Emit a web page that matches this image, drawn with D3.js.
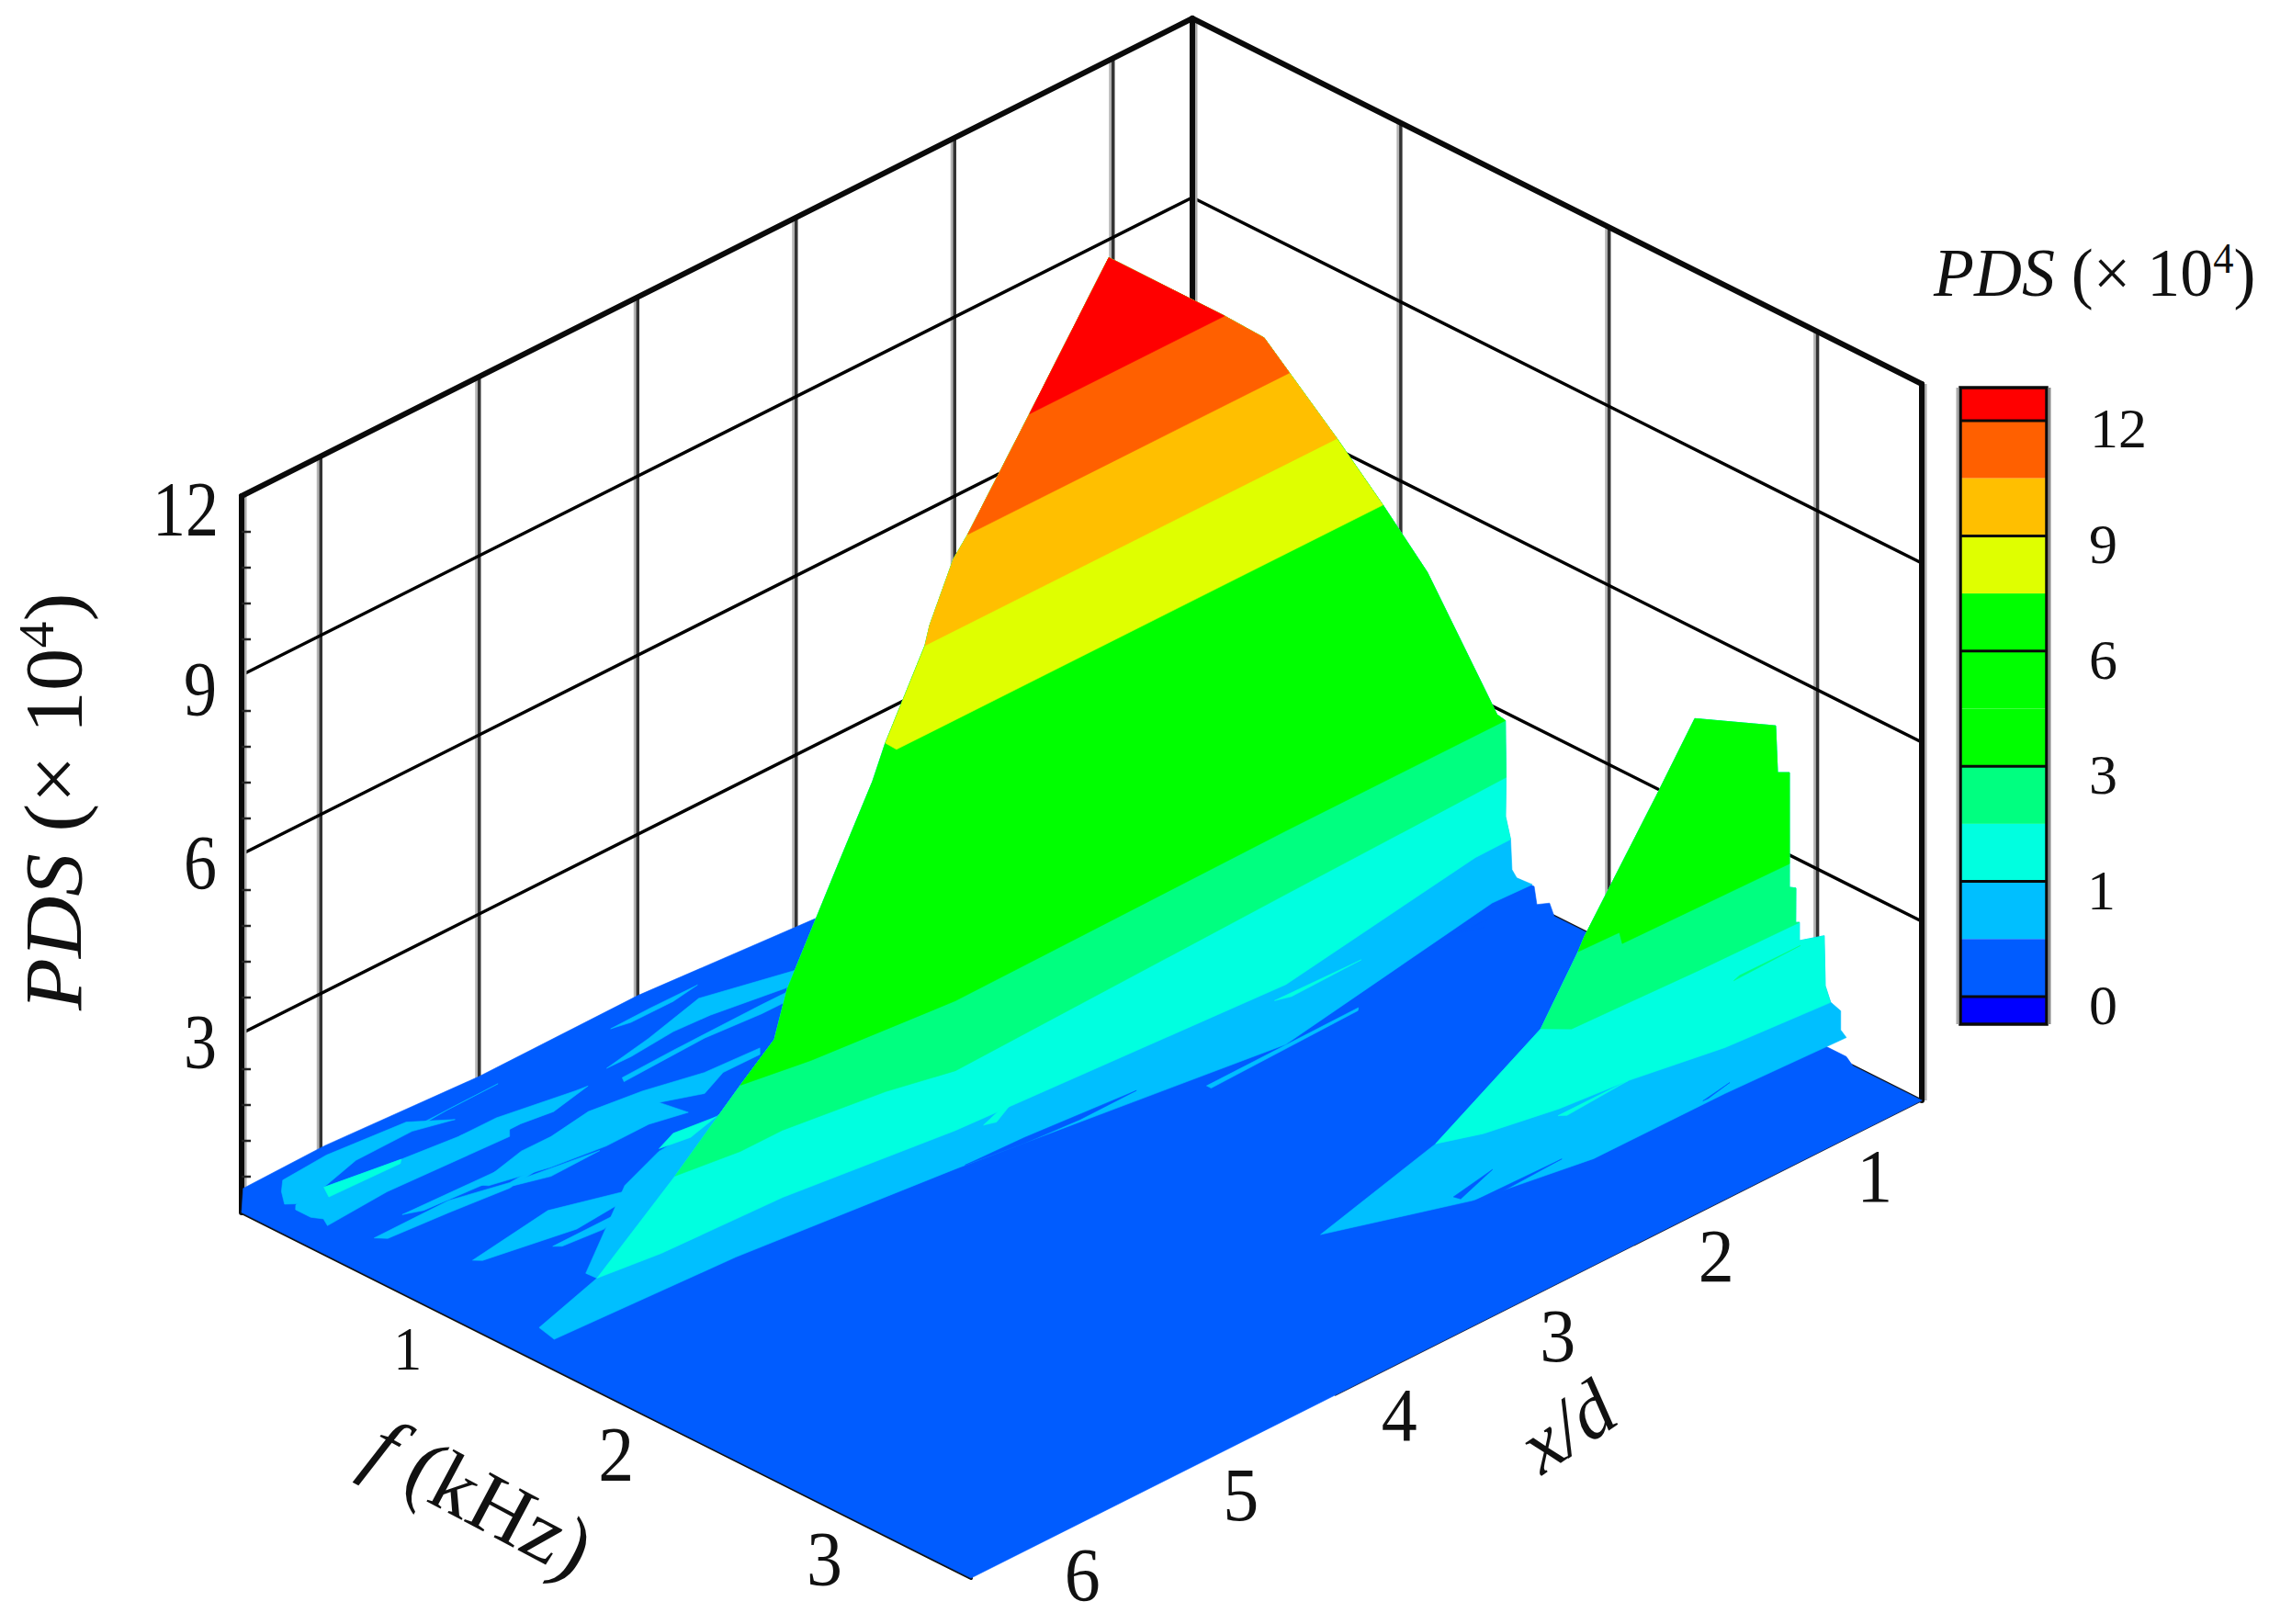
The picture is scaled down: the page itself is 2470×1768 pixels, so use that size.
<!DOCTYPE html>
<html><head><meta charset="utf-8">
<style>html,body{margin:0;padding:0;background:#fff}svg{display:block}text{font-family:"Liberation Serif","Times New Roman",serif;fill:#111}</style>
<script src="https://cdn.jsdelivr.net/npm/d3@7"></script></head>
<body><svg id="c" width="2470" height="1768"></svg>
<script>
// ---- axes ----
const xdTicks=[1,2,3,4,5,6];
const fTicks=[1,2,3];
const pdsTicks=[3,6,9,12];
const pdsMinor=[.6,1.2,1.8,2.4,3.6,4.2,4.8,5.4,6.6,7.2,7.8,8.4,9.6,10.2,10.8,11.4];
// ---- contour levels and colours (legend, top to bottom) ----
const levels=[12,10.5,9,7.5,6,4.5,3,2,1,0.5,0];
const labelledLevels=[12,9,6,3,1,0];
const bandColors=['#ff0000','#ff6000','#ffbf00','#dfff00','#00ff00','#00ff00','#00ff00','#00ff80','#00ffe0','#00bfff','#005cff','#0000ff'];
// ---- floor outline [x/d, f, PDS] ----
const floorEdge=[[6.5,0,0],[6.49,0,.39],[5.98,0,.42],[5,0,.28],[4,0,.3],[2.85,0,.09],[2.85,1.5,.3],[.5,1.5,.3],[.5,1.556,.32],[.5,1.64,.33],[.5,1.653,.05],[.5,1.714,.18],[.5,1.736,0],[.5,1.88,0],[.5,2.865,.1],[.5,3.138,.1],[.5,3.169,0],[.5,3.5,0],[6.5,3.5,0]];
// ---- first ridge: crest [x/d, f, PDS] and contours [x/d, f] ----
const ridge1Crest=[[.565,1.606,.5],[.528,1.555,.5],[.53,1.55,1],[.5,1.503,1.26],[.53,1.528,2],[.55,1.54,3],[.55,1.5,3.03],[.99,1.5,6],[1.27,1.5,7.5],[1.56,1.5,9],[1.86,1.5,10.5],[2.02,1.5,11.3],[2.27,1.5,12],[3,1.5,13.95],[3.5,1.5,12],[3.89,1.5,10.5],[3.98,1.5,10.21],[4.13,1.5,9.3],[4.16,1.5,9],[4.41,1.5,7.7],[4.49,1.5,7.17],[4.73,1.5,5.95],[5.03,1.5,4.4],[5.11,1.5,3.67],[5.254,1.446,3],[5.656,1.438,2],[6.168,1.453,1],[6.474,1.408,.5]];
const ridge1Contours=[
 {level:.5,pts:[[.557,1.675],[.8,1.667],[2.34,1.847],[4.165,1.649],[5.411,1.543],[6.5,1.5]]},
 {level:1,pts:[[.53,1.55],[.756,1.552],[2.15,1.704],[4.11,1.608],[5.075,1.513],[5.81,1.489],[6.168,1.453]]},
 {level:2,pts:[[.53,1.528],[1.959,1.558],[4.11,1.608],[4.46,1.54],[5.03,1.477],[5.295,1.477],[5.656,1.438]]},
 {level:3,pts:[[.55,1.54],[1.936,1.54],[4.046,1.559],[4.876,1.497],[5.254,1.446]]},
 {level:7.5,pts:[[1.27,1.5],[4.34,1.5]]},
 {level:9,pts:[[1.56,1.5],[4.13,1.5]]},
 {level:10.5,pts:[[1.86,1.5],[3.89,1.5]]},
 {level:12,pts:[[2.27,1.5],[3.5,1.5]]}];
// ---- second ridge ----
const ridge2Crest=[[.5,3.111,.5],[.5,3.111,.82],[.5,3.063,.88],[.5,3.037,1.11],[.5,3.032,1.94],[.5,2.913,1.65],[.517,2.926,2],[.529,2.917,2],[.5,2.896,2.5],[.5,2.865,2.46],[.555,2.907,3],[.5,2.865,4.38],[.575,2.865,4.48],[.587,2.865,5.28],[1.097,2.865,6.08],[1.34,2.865,5.11],[1.793,2.865,3.36],[1.774,2.82,3],[2,2.813,2],[2.68,2.825,1],[3.426,2.84,.5]];
const ridge2Contours=[
 {level:.5,pts:[[.53,3.161],[1.265,3.137],[2.088,3.133],[2.721,3.046],[3.426,2.84]]},
 {level:1,pts:[[.547,3.098],[1.163,3.06],[1.674,2.986],[2.073,2.954],[2.466,2.891],[2.68,2.825]]},
 {level:2,pts:[[.517,2.926],[1.133,2.914],[1.905,2.888],[2,2.813]]},
 {level:3,pts:[[.555,2.907],[1.584,2.887],[1.523,2.827],[1.774,2.82]]}];
// ---- streaks on the low surface: colour band, PDS, [x/d, f] ----
const floorStreaks=[
 {c:9,pts:[[6.43,.138],[6.355,.087],[6.06,.072],[5.6,.106],[5.43,.211],[5.64,.164],[6,.168],[6.27,.22],[6.36,.302],[6.5,.206]]},
 {c:9,pts:[[6.47,.237],[6.27,.22],[5.85,.272],[5.24,.326],[5.365,.423],[6.1,.393],[6.5,.412],[6.47,.37],[6.5,.332],[6.5,.259]]},
 {c:8,pts:[[6.27,.22],[5.85,.272],[5.88,.29],[6.315,.278]]},
 {c:9,pts:[[5.64,.149],[5.07,.143],[5.39,.146],[5.595,.157]]},
 {c:9,pts:[[6.195,.539],[5.545,.56],[5.6,.6],[6.1,.57]]},
 {c:9,pts:[[6.43,.583],[5.96,.583],[5.655,.644],[5.2,.621],[5.69,.67],[6.04,.641],[6.39,.618]]},
 {c:9,pts:[[4.63,.33],[4.31,.288],[3.9,.217],[3.4,.319],[3.49,.386],[3.97,.325],[4.19,.315],[4.48,.333]]},
 {c:9,pts:[[4.37,.151],[4.12,.147],[3.82,.15],[4,.17],[4.265,.169]]},
 {c:9,pts:[[4.64,.412],[4.31,.404],[3.74,.398],[3.56,.399],[3.62,.443],[3.8,.442],[4.13,.421],[4.43,.429],[4.66,.436]]},
 {c:9,pts:[[5.52,.301],[5.29,.302],[4.87,.363],[4.8,.37],[5.07,.41],[5.25,.389],[5.64,.39]]},
 {c:9,pts:[[5.235,.523],[4.96,.493],[4.66,.525],[4.35,.585],[4.02,.601],[4.06,.632],[4.29,.63],[4.48,.686],[4.68,.619],[4.65,.737],[4.85,.699],[5.12,.701],[5.43,.669],[5.74,.608],[5.77,.579],[5.42,.521]]},
 {c:9,pts:[[6.26,.926],[5.71,.869],[5.22,.995],[5.735,1.027],[6.23,.951]]},
 {c:9,pts:[[5.92,1.052],[5.47,1.051],[5.65,1.093],[5.89,1.074]]},
 {c:9,pts:[[5.65,.648],[5.17,.707],[5.485,.713],[5.66,.668]]},
 {c:9,pts:[[4.58,.823],[4.99,.853],[5.31,.934],[5.985,1.26],[5.98,1.329],[5.07,1.059],[4.34,.793]]},
 {c:8,pts:[[4.97,.84],[4.83,.801],[4.59,.825],[4.8,.862]]}];
const surfaceStreaks=[
 {c:8,z:.5,pts:[[3.8,1.507],[3.43,1.423],[3.74,1.524]]},
 {c:8,z:.5,pts:[[2.1,1.611],[1.57,1.624],[2.02,1.632]]},
 {c:10,z:.5,pts:[[4.11,1.654],[3.75,1.665],[3.1,1.709],[3.46,1.712],[3.79,1.692]]},
 {c:10,z:.5,pts:[[1.12,1.722],[.92,1.735],[.98,1.764]]},
 {c:9,z:.5,pts:[[2.85,1.855],[1.88,1.846],[1.9,1.859],[2.85,1.877]]},
 {c:7,z:2,pts:[[1.09,3.047],[.66,3.039],[1.04,3.036]]},
 {c:10,z:.5,pts:[[1.38,3.119],[1.18,3.096],[1.35,3.121]]},
 {c:10,z:.5,pts:[[2.77,2.979],[2.475,2.942],[2.76,3.006]]},
 {c:10,z:.5,pts:[[2.75,3.048],[2.19,3.058],[2.71,3.074]]},
 {c:8,z:.5,pts:[[1.93,2.842],[1.49,2.843],[1.9,2.862]]}];

// ---- projection built from linear scales ----
const xdX=d3.scaleLinear([.5,6.5],[1298,263]), xdY=d3.scaleLinear([.5,6.5],[800,1320]);
const fX=d3.scaleLinear([0,3.5],[0,794]), fY=d3.scaleLinear([0,3.5],[0,398]);
const pdsH=d3.scaleLinear([0,12],[0,780]);
const project=(xd,f,z)=>[xdX(xd)+fX(f), xdY(xd)+fY(f)-pdsH(z)];
const legendY=d3.scaleLinear([0,levels.length-1],[458,1085]);
const svg=d3.select('#c');
const line=d3.line(), closed=d3.line().curve(d3.curveLinearClosed);

function seg(a,b,w,col){svg.append('path').attr('d',line([project(...a),project(...b)])).attr('fill','none').attr('stroke',col).attr('stroke-width',w).attr('stroke-linecap','round');}
function vGrid(xd,f){ // vertical grid line with its soft halo, as in the reference
 const p=project(xd,f,0),q=project(xd,f,12);
 svg.append('path').attr('d',line([[p[0]-3,p[1]],[q[0]-3,q[1]]])).attr('stroke','#b4b4b4').attr('stroke-width',3);
 svg.append('path').attr('d',line([p,q])).attr('stroke','#333').attr('stroke-width',3.5);
}
// walls
xdTicks.forEach(x=>vGrid(x,0));
fTicks.forEach(f=>vGrid(.5,f));
pdsTicks.filter(z=>z<12).forEach(z=>{seg([6.5,0,z],[.5,0,z],3.5,'#000');seg([.5,0,z],[.5,3.5,z],3.5,'#000');});
seg([6.5,0,0],[.5,0,0],3,'#111');seg([.5,0,0],[.5,3.5,0],3,'#111');
// frame
[[6.5,0],[.5,0],[.5,3.5]].forEach(c=>{
 const p=project(c[0],c[1],0),q=project(c[0],c[1],12);
 svg.append('path').attr('d',line([[p[0]+4,p[1]],[q[0]+4,q[1]]])).attr('stroke','#aaa').attr('stroke-width',3);
 seg([c[0],c[1],0],[c[0],c[1],12],6,'#0a0a0a');
});
seg([6.5,0,12],[.5,0,12],6,'#0a0a0a');seg([.5,0,12],[.5,3.5,12],6,'#0a0a0a');
// PDS minor ticks on the left edge
pdsMinor.forEach(z=>{const p=project(6.5,0,z);svg.append('path').attr('d',line([p,[p[0]+10,p[1]]])).attr('stroke','#222').attr('stroke-width',2.5);});
// floor edges with their axis lines
seg([6.5,0,0],[6.5,3.5,0],4,'#111');
seg([4.2,3.5,0],[.5,3.5,0],2,'#223');
// surface
const poly=(pts,col)=>svg.append('path').attr('d',closed(pts)).attr('fill',col).attr('stroke',col).attr('stroke-width',.6).attr('stroke-linejoin','round');
const bandOf=l=>bandColors[levels.indexOf(l)];
poly(floorEdge.map(p=>project(...p)),bandColors[10]);
floorStreaks.forEach(s=>poly(s.pts.map(p=>project(p[0],p[1],.5)),bandColors[s.c]));
function ridge(crest,contours){
 contours.forEach(c=>{
  const pts=c.pts.map(p=>project(p[0],p[1],c.level));
  crest.filter(p=>p[2]>=c.level).reverse().forEach(p=>pts.push(project(...p)));
  poly(pts,bandOf(c.level));
 });
}
ridge(ridge1Crest,ridge1Contours);
ridge(ridge2Crest,ridge2Contours);
surfaceStreaks.forEach(s=>poly(s.pts.map(p=>project(p[0],p[1],s.z)),bandColors[s.c]));

// text helper
function label(x,y,t,size,o={}){
 return svg.append('text').attr('text-anchor',o.anchor||'middle')
  .attr('transform',`translate(${x},${y}) rotate(${o.rot||0}) scale(${o.sx||1},${o.sy||1})`)
  .attr('font-size',size).attr('font-style',o.style||null).text(t);
}
pdsTicks.forEach(z=>{const p=project(6.5,0,z);label(p[0]-(z==12?25:27),p[1]+(z<9?38:z==9?44:43),z,72,{anchor:'end',sy:1.17});});
xdTicks.forEach(x=>{const p=project(x,3.5,0);label(p[0]+35,p[1]+67,x,78,{sy:1.06});});
fTicks.forEach(f=>{const p=project(6.5,f,0);label(p[0]-46,p[1]+(f==1?57:65),f,f==1?62:78,{sy:1.08});});
// axis titles
function pdsTitle(x,y,size,rot,sx,sy){
 const t=svg.append('text').attr('transform',`translate(${x},${y}) rotate(${rot}) scale(${sx},${sy})`).attr('font-size',size);
 t.append('tspan').attr('font-style','italic').text('PDS');
 t.append('tspan').text(' (× 10');
 t.append('tspan').attr('font-size',size*.62).attr('dy',-size*.34).text('4');
 t.append('tspan').attr('dy',size*.34).text(')');
}
pdsTitle(88,1100,88,-90,1.06,1);
pdsTitle(2105,322,66,0,1.09,1.12);
label(1722,1577,'x/d',86,{rot:-34,style:'italic'});
const ft=svg.append('text').attr('transform','translate(392,1596) rotate(28)').attr('font-size',92);
ft.append('tspan').attr('font-style','italic').text('f');
ft.append('tspan').text(' (kHz)');
// legend
const lx=2134,lw=94;
bandColors.forEach((c,i)=>{
 const y0=i==0?422:legendY(i-1), y1=i==levels.length?1115:legendY(i);
 svg.append('rect').attr('x',lx).attr('y',y0).attr('width',lw).attr('height',y1-y0).attr('fill',c);
});
labelledLevels.forEach(l=>{
 const y=legendY(levels.indexOf(l));
 svg.append('path').attr('d',line([[lx,y],[lx+lw,y]])).attr('stroke','#0a0a0a').attr('stroke-width',3);
 label(lx+(l==12?141:l==1?138:140),y+(l==12?29:l==9?30:l==1?30:30),l,62,{anchor:'start'});
});
svg.append('rect').attr('x',lx).attr('y',422).attr('width',lw).attr('height',693).attr('fill','none').attr('stroke','#0a0a0a').attr('stroke-width',3.5);
svg.append('path').attr('d',line([[lx-3,422],[lx-3,1115]])).attr('stroke','#aaa').attr('stroke-width',3);
svg.append('path').attr('d',line([[lx+lw+3,422],[lx+lw+3,1115]])).attr('stroke','#888').attr('stroke-width',3);
</script></body></html>
